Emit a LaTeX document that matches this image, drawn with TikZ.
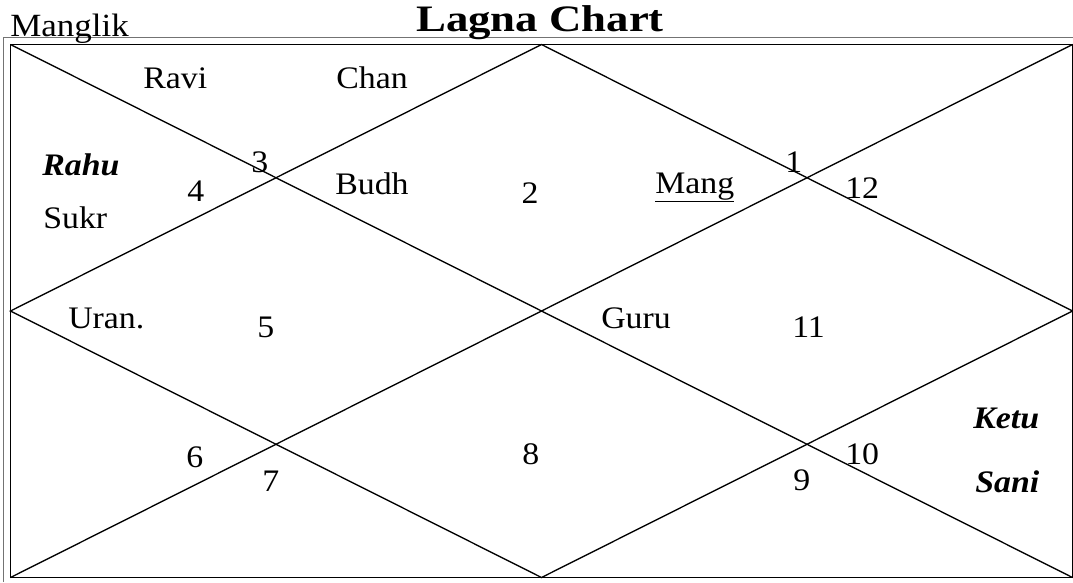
\documentclass[tikz,border=0pt]{standalone}
\usepackage{fontspec}
\setmainfont{Liberation Serif}[FakeStretch=1.08]
\newfontfamily\titlefont{Liberation Serif}[FakeStretch=1.2]
\begin{document}
\begin{tikzpicture}[x=0.75pt,y=-0.75pt,
  txt/.style={inner sep=0pt,anchor=base west,font=\fontsize{23.5}{28}\selectfont},
  ctxt/.style={txt,anchor=base},
  bi/.style={font=\fontsize{23.5}{28}\selectfont\bfseries\itshape},
  frameline/.style={draw=black!55,line width=1.2pt},
  boxline/.style={draw=black,line width=1.3pt},
  chartline/.style={draw=black,line width=1pt}]
\useasboundingbox (0,0) rectangle (1073,582);
% corners and midpoints
\coordinate (tl) at (10.5,44.5);
\coordinate (tr) at (1072.5,44.5);
\coordinate (bl) at (10.5,577.5);
\coordinate (br) at (1072.5,577.5);
\coordinate (tm) at (541.5,44.5);
\coordinate (bm) at (541.5,577.5);
\coordinate (lm) at (10.5,311);
\coordinate (rm) at (1072.5,311);
\coordinate (ofb) at (3.5,582);
\coordinate (oft) at (3.5,37.5);
\coordinate (ofr) at (1073,37.5);
% outer frame
\draw[frameline] (ofb) -- (oft) -- (ofr);
% inner frame
\draw[boxline] (tl) rectangle (br);
% diagonals
\draw[chartline] (tl) -- (br);
\draw[chartline] (tr) -- (bl);
% diamond
\draw[chartline] (tm) -- (rm) -- (bm) -- (lm) -- cycle;
% titles
\node[txt,font=\fontsize{24.3}{28}\selectfont] (manglik) at (10,36) {Manglik};
\node[ctxt,font=\titlefont\fontsize{28}{32}\selectfont\bfseries] (title) at (540,31) {Lagna Chart};
% house texts
\node[txt] (ravi) at (143,88) {Ravi};
\node[txt] (chan) at (336,88) {Chan};
\node[txt,bi] (rahu) at (42,175) {Rahu};
\node[txt] (sukr) at (43,228) {Sukr};
\node[txt] (h3) at (251,172) {3};
\node[txt] (h4) at (187,201) {4};
\node[txt] (budh) at (335,194) {Budh};
\node[ctxt] (h2) at (530,203) {2};
\node[txt] (mang) at (655,193) {\underline{Mang}};
\node[txt] (h1) at (785,172) {1};
\node[txt] (h12) at (845,198) {12};
\node[txt] (uran) at (68,328) {Uran.};
\node[txt] (h5) at (257,337) {5};
\node[txt] (guru) at (601,328) {Guru};
\node[txt] (h11) at (792,337) {11};
\node[txt] (h6) at (186,467) {6};
\node[txt] (h7) at (262,491) {7};
\node[txt] (h8) at (522,464) {8};
\node[txt] (h9) at (793,490) {9};
\node[txt] (h10) at (845,464) {10};
\node[txt,bi] (ketu) at (973,428) {Ketu};
\node[txt,bi] (sani) at (975,492) {Sani};
\end{tikzpicture}
\end{document}
